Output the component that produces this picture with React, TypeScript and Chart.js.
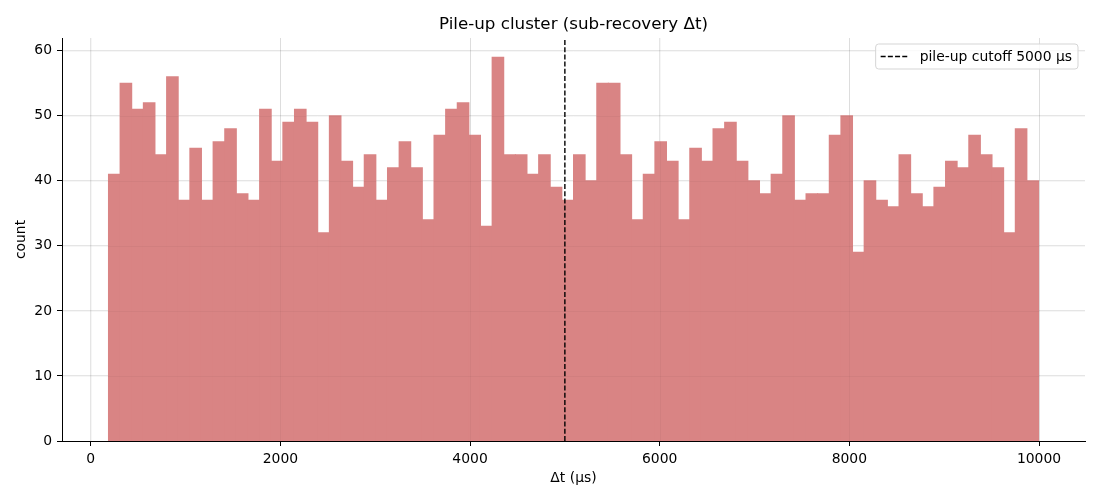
import { useEffect, useRef } from "react"
import { Chart, registerables } from "chart.js"

Chart.register(...registerables)

// histogram: 80 bins of delta-t between consecutive hits
const binStart = 187
const binWidth = 122.6
const counts = [
  41, 55, 51, 52, 44, 56, 37, 45, 37, 46, 48, 38, 37, 51, 43, 49, 51, 49, 32, 50,
  43, 39, 44, 37, 42, 46, 42, 34, 47, 51, 52, 47, 33, 59, 44, 44, 41, 44, 39, 37,
  44, 40, 55, 55, 44, 34, 41, 46, 43, 34, 45, 43, 48, 49, 43, 40, 38, 41, 50, 37,
  38, 38, 47, 50, 29, 40, 37, 36, 44, 38, 36, 39, 43, 42, 47, 44, 42, 32, 48, 40,
]
const cutoff = 5000
const xTicks = [0, 2000, 4000, 6000, 8000, 10000]
const yTicks = [0, 10, 20, 30, 40, 50, 60]

const FONT = "'DejaVu Sans', sans-serif"

const titlePlugin = {
  id: "mplTitle",
  afterDraw(chart: Chart) {
    const { ctx, chartArea } = chart
    ctx.save()
    ctx.font = `16.7px ${FONT}`
    ctx.fillStyle = "#000"
    ctx.textAlign = "center"
    ctx.textBaseline = "alphabetic"
    ctx.fillText("Pile-up cluster (sub-recovery Δt)", (chartArea.left + chartArea.right) / 2, chartArea.top - 9)
    ctx.restore()
  },
}

// faint grid showing through the (semi-transparent looking) bars
const gridOverlay = {
  id: "gridOverlay",
  beforeDatasetsDraw() {},
  afterDatasetDraw(chart: Chart, args: any) {
    if (args.meta.type !== "bar") return
    const { ctx, chartArea, scales } = chart
    ctx.save()
    ctx.beginPath()
    ctx.rect(chartArea.left, chartArea.top, chartArea.right - chartArea.left, chartArea.bottom - chartArea.top)
    ctx.clip()
    ctx.strokeStyle = "rgba(0,0,0,0.035)"
    ctx.lineWidth = 1
    for (const v of xTicks) {
      const px = Math.round(scales.x.getPixelForValue(v)) + 0.5
      ctx.beginPath()
      ctx.moveTo(px, chartArea.top)
      ctx.lineTo(px, chartArea.bottom)
      ctx.stroke()
    }
    for (const v of yTicks) {
      const py = Math.round(scales.y.getPixelForValue(v)) + 0.5
      ctx.beginPath()
      ctx.moveTo(chartArea.left, py)
      ctx.lineTo(chartArea.right, py)
      ctx.stroke()
    }
    ctx.restore()
  },
}

const legendPlugin = {
  id: "mplLegend",
  afterDraw(chart: Chart) {
    const { ctx, chartArea } = chart
    const label = `pile-up cutoff ${cutoff} μs`
    ctx.save()
    ctx.font = `13.9px ${FONT}`
    const tw = ctx.measureText(label).width
    const w = tw + 50
    const h = 25
    const x = chartArea.right - 7 - w
    const y = chartArea.top + 6
    ctx.beginPath()
    ctx.roundRect(x, y, w, h, 3)
    ctx.fillStyle = "rgba(255,255,255,0.8)"
    ctx.fill()
    ctx.strokeStyle = "#d5d5d5"
    ctx.lineWidth = 1
    ctx.stroke()
    ctx.beginPath()
    ctx.setLineDash([5, 2.2])
    ctx.strokeStyle = "#000"
    ctx.lineWidth = 1.4
    ctx.moveTo(x + 5, y + h / 2)
    ctx.lineTo(x + 33, y + h / 2)
    ctx.stroke()
    ctx.setLineDash([])
    ctx.fillStyle = "#000"
    ctx.textBaseline = "middle"
    ctx.textAlign = "left"
    ctx.fillText(label, x + 44, y + h / 2 + 0.5)
    ctx.restore()
  },
}

export default function App() {
  const chartRef = useRef<HTMLCanvasElement>(null)
  const chartInstance = useRef<Chart | null>(null)

  useEffect(() => {
    document.body.style.margin = "0"
    if (!chartRef.current) return
    if (chartInstance.current) chartInstance.current.destroy()

    const ctx = chartRef.current.getContext("2d")
    if (!ctx) return

    Chart.defaults.font.family = FONT
    Chart.defaults.font.size = 13.9
    Chart.defaults.color = "#000"

    const bars = counts.map((c, i) => ({ x: binStart + binWidth * (i + 0.5), y: c }))

    chartInstance.current = new Chart(ctx, {
      type: "bar",
      data: {
        datasets: [
          {
            type: "line",
            label: `pile-up cutoff ${cutoff} μs`,
            data: [
              { x: cutoff, y: 0 },
              { x: cutoff, y: 61.95 },
            ],
            borderColor: "#000",
            borderWidth: 1.4,
            borderDash: [5, 2.2],
            pointRadius: 0,
            fill: false,
            order: 0,
          },
          {
            type: "bar",
            label: "count",
            data: bars,
            backgroundColor: "rgb(217, 132, 132)",
            borderWidth: 0,
            inflateAmount: 0.5,
            barPercentage: 1,
            categoryPercentage: 1,
            order: 1,
          },
        ] as any,
      },
      options: {
        animation: false,
        responsive: true,
        maintainAspectRatio: false,
        layout: { padding: { top: 38, right: 15, left: 0, bottom: 0 } },
        scales: {
          x: {
            type: "linear",
            min: -303,
            max: 10485,
            offset: false,
            afterBuildTicks: (scale: any) => {
              scale.ticks = xTicks.map((v) => ({ value: v }))
            },
            afterFit: (scale: any) => {
              scale.height = 59
            },
            ticks: { padding: 5, maxRotation: 0, autoSkip: false, callback: (v: any) => String(v) },
            grid: { offset: false, color: "rgba(0,0,0,0.1)", tickColor: "#000", tickLength: 5, lineWidth: 1 },
            border: { color: "#000", width: 1 },
            title: { display: true, text: "Δt (μs)", padding: { top: 4, bottom: 13.7 } },
          },
          y: {
            type: "linear",
            min: 0,
            max: 61.95,
            afterBuildTicks: (scale: any) => {
              scale.ticks = yTicks.map((v) => ({ value: v }))
            },
            afterFit: (scale: any) => {
              scale.width = 62
            },
            ticks: { padding: 5, autoSkip: false, callback: (v: any) => String(v) },
            grid: { color: "rgba(0,0,0,0.1)", tickColor: "#000", tickLength: 5, lineWidth: 1 },
            border: { color: "#000", width: 1 },
            title: { display: true, text: "count", padding: { top: 13.5, bottom: 4 } },
          },
        },
        plugins: {
          legend: { display: false },
          title: { display: false },
          tooltip: { enabled: false },
        },
      },
      plugins: [gridOverlay, titlePlugin, legendPlugin],
    })

    return () => {
      if (chartInstance.current) {
        chartInstance.current.destroy()
        chartInstance.current = null
      }
    }
  }, [])

  return (
    <div style={{ position: "relative", width: 1100, height: 500 }}>
      <canvas ref={chartRef}></canvas>
    </div>
  )
}
